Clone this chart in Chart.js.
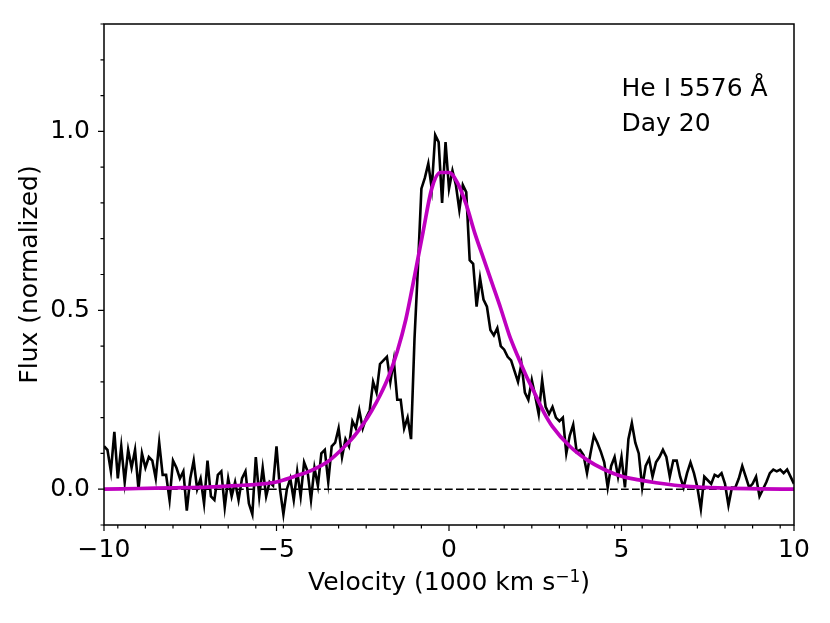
<!DOCTYPE html>
<html>
<head>
<meta charset="utf-8">
<title>He I 5576 Day 20</title>
<script src="https://cdn.jsdelivr.net/npm/chart.js@4.4.0/dist/chart.umd.min.js"></script>
<style>
  html, body { margin: 0; padding: 0; background: #fff; }
  #wrap { width: 830px; height: 623px; }
</style>
</head>
<body>
<div id="wrap"><canvas id="chart"></canvas></div>
<script>
// ========================== Data ==========================
// observed line profile, velocity in 1000 km/s
const velocity = [
  -10, -9.9, -9.8, -9.7, -9.6, -9.5, -9.4, -9.3, -9.2, -9.1,
  -9, -8.9, -8.8, -8.7, -8.6, -8.5, -8.4, -8.3, -8.2, -8.1,
  -8, -7.9, -7.8, -7.7, -7.6, -7.5, -7.4, -7.3, -7.2, -7.1,
  -7, -6.9, -6.8, -6.7, -6.6, -6.5, -6.4, -6.3, -6.2, -6.1,
  -6, -5.9, -5.8, -5.7, -5.6, -5.5, -5.4, -5.3, -5.2, -5.1,
  -5, -4.9, -4.8, -4.7, -4.6, -4.5, -4.4, -4.3, -4.2, -4.1,
  -4, -3.9, -3.8, -3.7, -3.6, -3.5, -3.4, -3.3, -3.2, -3.1,
  -3, -2.9, -2.8, -2.7, -2.6, -2.5, -2.4, -2.3, -2.2, -2.1,
  -2, -1.9, -1.8, -1.7, -1.6, -1.5, -1.4, -1.3, -1.2, -1.1,
  -1, -0.9, -0.8, -0.7, -0.6, -0.5, -0.4, -0.3, -0.2, -0.1,
  0, 0.1, 0.2, 0.3, 0.4, 0.5, 0.6, 0.7, 0.8, 0.9,
  1, 1.1, 1.2, 1.3, 1.4, 1.5, 1.6, 1.7, 1.8, 1.9,
  2, 2.1, 2.2, 2.3, 2.4, 2.5, 2.6, 2.7, 2.8, 2.9,
  3, 3.1, 3.2, 3.3, 3.4, 3.5, 3.6, 3.7, 3.8, 3.9,
  4, 4.1, 4.2, 4.3, 4.4, 4.5, 4.6, 4.7, 4.8, 4.9,
  5, 5.1, 5.2, 5.3, 5.4, 5.5, 5.6, 5.7, 5.8, 5.9,
  6, 6.1, 6.2, 6.3, 6.4, 6.5, 6.6, 6.7, 6.8, 6.9,
  7, 7.1, 7.2, 7.3, 7.4, 7.5, 7.6, 7.7, 7.8, 7.9,
  8, 8.1, 8.2, 8.3, 8.4, 8.5, 8.6, 8.7, 8.8, 8.9,
  9, 9.1, 9.2, 9.3, 9.4, 9.5, 9.6, 9.7, 9.8, 9.9,
  10
];
const flux = [
  0.12, 0.11, 0.05, 0.16, 0.03, 0.12, 0.02, 0.11, 0.06, 0.11,
  0.00, 0.10, 0.06, 0.09, 0.08, 0.03, 0.13, 0.04, 0.04, -0.03,
  0.08, 0.06, 0.03, 0.05, -0.06, 0.03, 0.08, 0.00, 0.03, -0.04,
  0.08, -0.02, -0.03, 0.04, 0.05, -0.05, 0.03, -0.02, 0.02, -0.03,
  0.03, 0.05, -0.04, -0.07, 0.09, -0.02, 0.06, -0.02, 0.02, 0.01,
  0.12, 0.00, -0.07, 0.00, 0.03, -0.03, 0.05, -0.02, 0.075, 0.05,
  -0.03, 0.06, 0.01, 0.10, 0.11, 0.02, 0.12, 0.13, 0.17, 0.09,
  0.14, 0.12, 0.19, 0.17, 0.22, 0.17, 0.20, 0.22, 0.30, 0.27,
  0.35, 0.36, 0.37, 0.30, 0.36, 0.25, 0.25, 0.17, 0.20, 0.14,
  0.42, 0.62, 0.84, 0.87, 0.91, 0.84, 0.99, 0.97, 0.80, 0.97,
  0.84, 0.89, 0.85, 0.78, 0.85, 0.83, 0.64, 0.63, 0.51, 0.59,
  0.53, 0.51, 0.445, 0.43, 0.45, 0.40, 0.39, 0.37, 0.36, 0.33,
  0.30, 0.35, 0.27, 0.25, 0.305, 0.26, 0.21, 0.305, 0.23, 0.21,
  0.23, 0.20, 0.19, 0.20, 0.10, 0.15, 0.18, 0.105, 0.11, 0.095,
  0.045, 0.10, 0.15, 0.13, 0.105, 0.075, 0.005, 0.065, 0.09, 0.035,
  0.09, 0.005, 0.14, 0.185, 0.13, 0.10, 0.005, 0.065, 0.085, 0.035,
  0.075, 0.09, 0.11, 0.09, 0.035, 0.08, 0.08, 0.035, 0.005, 0.045,
  0.075, 0.045, 0.005, -0.055, 0.035, 0.025, 0.015, 0.04, 0.035, 0.045,
  0.015, -0.045, 0.005, 0.005, 0.03, 0.065, 0.035, 0.005, 0.015, 0.035,
  -0.02, 0.00, 0.02, 0.045, 0.055, 0.05, 0.055, 0.045, 0.055, 0.035,
  0.015
];

// smooth fit (magenta)
const fitVelocity = [-10, -9, -8, -7, -6, -5.5, -5, -4.5, -4, -3.5, -3, -2.75, -2.5, -2.25, -2,
  -1.75, -1.5, -1.25, -1, -0.75, -0.5, -0.25, 0, 0.25, 0.5, 0.75, 1, 1.25, 1.5, 1.75,
  2, 2.25, 2.5, 2.75, 3, 3.5, 4, 4.5, 5, 5.5, 6, 7, 8, 9, 10];
const fitFlux = [0.000, 0.002, 0.004, 0.006, 0.011, 0.014, 0.020, 0.035, 0.052, 0.078, 0.122, 0.148, 0.180, 0.218, 0.262,
  0.315, 0.385, 0.475, 0.595, 0.720, 0.840, 0.885, 0.885, 0.855, 0.795, 0.715, 0.645, 0.575, 0.505, 0.430,
  0.370, 0.314, 0.265, 0.215, 0.175, 0.120, 0.082, 0.055, 0.036, 0.026, 0.018, 0.007, 0.003, 0.001, 0.000];

// zero level (dashed)
const zeroVelocity = [-10, 10];
const zeroFlux = [0, 0];

// axes
const xTicks = [-10, -5, 0, 5, 10];
const xMinorTicks = [-9.6, -8.8, -8, -7.2, -6.4, -5.6, -4.8, -4, -3.2, -2.4, -1.6, -0.8,
  0.8, 1.6, 2.4, 3.2, 4, 4.8, 5.6, 6.4, 7.2, 8, 8.8, 9.6];
const yTicks = [0, 0.5, 1.0];
const yMinorTicks = [-0.1, 0.1, 0.2, 0.3, 0.4, 0.6, 0.7, 0.8, 0.9, 1.1, 1.2, 1.3];

const xTitleParts = ['Velocity (1000 km s', '\u22121', ')'];  // middle part is the superscript
const yTitle = 'Flux (normalized)';
const noteLines = ['He I 5576 Å', 'Day 20'];

// ========================== Helpers ==========================
const FONT = '"DejaVu Sans", sans-serif';
const FS = 25;
const toPoints = (xs, ys) => ys.map((v, i) => ({ x: xs[i], y: v }));
const fmt = (v, d) => (v < 0 ? '\u2212' : '') + Math.abs(v).toFixed(d);

// ticks, frame, x title and the note, drawn on top like matplotlib spines
const frameBox = {
  id: 'frameBox',
  afterDraw(chart) {
    const { ctx, chartArea: a, scales: { x, y } } = chart;
    ctx.save();
    ctx.strokeStyle = '#000';
    ctx.lineWidth = 1.2;
    ctx.beginPath();
    xMinorTicks.forEach(v => { const p = x.getPixelForValue(v); ctx.moveTo(p, a.bottom); ctx.lineTo(p, a.bottom + 3.5); });
    xTicks.forEach(v => { const p = x.getPixelForValue(v); ctx.moveTo(p, a.bottom); ctx.lineTo(p, a.bottom + 6); });
    yMinorTicks.forEach(v => { const p = y.getPixelForValue(v); ctx.moveTo(a.left, p); ctx.lineTo(a.left - 3.5, p); });
    yTicks.forEach(v => { const p = y.getPixelForValue(v); ctx.moveTo(a.left, p); ctx.lineTo(a.left - 6, p); });
    ctx.stroke();

    ctx.lineWidth = 1.5;
    ctx.strokeRect(a.left, a.top, a.right - a.left, a.bottom - a.top);

    ctx.fillStyle = '#000';
    ctx.textAlign = 'left';
    ctx.textBaseline = 'alphabetic';

    // x axis title with a real superscript
    const mainFont = FS + 'px ' + FONT, supFont = '17px ' + FONT;
    ctx.font = mainFont;
    const w0 = ctx.measureText(xTitleParts[0]).width, w2 = ctx.measureText(xTitleParts[2]).width;
    ctx.font = supFont;
    const w1 = ctx.measureText(xTitleParts[1]).width;
    let tx = (a.left + a.right) / 2 - (w0 + w1 + w2) / 2;
    const ty = a.bottom + 65;
    ctx.font = mainFont; ctx.fillText(xTitleParts[0], tx, ty); tx += w0;
    ctx.font = supFont; ctx.fillText(xTitleParts[1], tx, ty - 8); tx += w1;
    ctx.font = mainFont; ctx.fillText(xTitleParts[2], tx, ty);

    // note in the upper right, anchored in data coordinates
    ctx.font = mainFont;
    ctx.fillText(noteLines[0], x.getPixelForValue(5), y.getPixelForValue(1.1));
    ctx.fillText(noteLines[1], x.getPixelForValue(5), y.getPixelForValue(1.0));
    ctx.restore();
  }
};

// ========================== Chart ==========================
new Chart(document.getElementById('chart'), {
  type: 'line',
  data: {
    datasets: [
      {
        data: toPoints(fitVelocity, fitFlux),
        borderColor: '#bf00bf',
        borderWidth: 3.7,
        cubicInterpolationMode: 'monotone',
        pointRadius: 0,
        order: 1
      },
      {
        data: toPoints(velocity, flux),
        borderColor: '#000',
        borderWidth: 2.6,
        tension: 0,
        pointRadius: 0,
        order: 2
      },
      {
        data: toPoints(zeroVelocity, zeroFlux),
        borderColor: '#000',
        borderWidth: 1.6,
        borderDash: [7.7, 3.3],
        pointRadius: 0,
        order: 3
      }
    ]
  },
  options: {
    responsive: true,
    maintainAspectRatio: false,
    animation: false,
    layout: { padding: { top: 24, right: 36, left: 0, bottom: 0 } },
    plugins: {
      legend: { display: false },
      tooltip: { enabled: false }
    },
    scales: {
      x: {
        type: 'linear',
        min: -10,
        max: 10,
        afterBuildTicks: s => { s.ticks = xTicks.map(v => ({ value: v })); },
        afterFit: s => { s.height = 98; s.paddingLeft = 0; s.paddingRight = 0; },
        grid: { display: false, drawTicks: false },
        border: { display: false },
        ticks: {
          callback: v => fmt(v, 0),
          color: '#000',
          font: { family: FONT, size: FS },
          padding: 10,
          maxRotation: 0,
          autoSkip: false
        },
        title: { display: false }
      },
      y: {
        type: 'linear',
        min: -0.1,
        max: 1.3,
        afterBuildTicks: s => { s.ticks = yTicks.map(v => ({ value: v })); },
        afterFit: s => { s.width = 104; s.paddingTop = 0; s.paddingBottom = 0; },
        grid: { display: false, drawTicks: false },
        border: { display: false },
        ticks: {
          callback: v => fmt(v, 1),
          color: '#000',
          font: { family: FONT, size: FS },
          padding: 14,
          autoSkip: false
        },
        title: {
          display: true,
          text: yTitle,
          color: '#000',
          font: { family: FONT, size: FS },
          padding: { top: 15, bottom: 0 }
        }
      }
    }
  },
  plugins: [frameBox]
});
</script>
</body>
</html>
